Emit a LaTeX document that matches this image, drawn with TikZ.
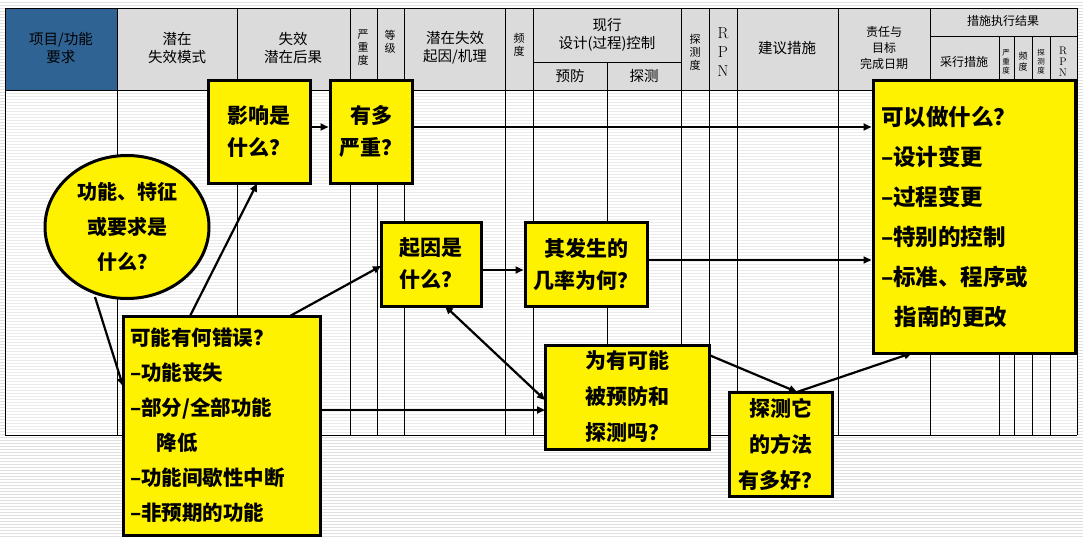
\documentclass[tikz,border=0pt]{standalone}
\usepackage{fontspec}
\newfontfamily\cjk{Noto Sans CJK SC}
\usetikzlibrary{shapes.geometric,arrows.meta}
\begin{document}
\begin{tikzpicture}[x=1pt,y=-1pt,
  hdr/.style={font=\cjk\fontsize{14.5}{18}\selectfont,align=center,inner sep=0},
  hs/.style={font=\cjk\fontsize{11}{13}\selectfont,align=center,inner sep=0},
  yb/.style={draw=black,line width=3pt,fill=yellow,font=\cjk\bfseries\fontsize{21}{32}\selectfont,align=center,inner sep=0},
  arr/.style={line width=2.2pt,-{Triangle[length=8pt,width=7pt]}},
  darr/.style={line width=2.2pt,{Triangle[length=8pt,width=7pt]}-{Triangle[length=8pt,width=7pt]}},
  grid/.style={black,line width=0.7pt}]
\useasboundingbox (0,0) rectangle (1083,538);
\fill[white] (0,0) rectangle (1083,538);
\foreach \y in {2,5,...,538} \draw[black!12,line width=0.8pt] (0,\y) -- (1083,\y);
% table body
\fill[white] (5,90) rectangle (1077,435);
\foreach \y in {93,96,...,433} \draw[black!8,line width=0.6pt] (5,\y) -- (1077,\y);
% header
\fill[black!14] (117,8) rectangle (1077,90);
\fill[fill={rgb,255:red,47;green,99;blue,147}] (5,8) rectangle (117,90);
\draw[grid] (5,8) rectangle (1077,90);
\draw[grid] (5,435) -- (1077,435);
\draw[grid] (5,90) -- (5,435) (1077,90) -- (1077,435);
\foreach \x in {117,237,350,377,404,505,533,681,709,737,838,930}
  \draw[grid] (\x,8) -- (\x,435);
\draw[grid] (607,62) -- (607,435) (533,62) -- (681,62);
\draw[grid] (930,36) -- (1077,36);
\foreach \x in {999,1014,1032,1050} \draw[grid] (\x,36) -- (\x,435);
\node[hdr] (h1) at (61,48) {项目/功能\\要求};
\node[hdr] (h2) at (177,48) {潜在\\失效模式};
\node[hdr] (h3) at (293,48) {失效\\潜在后果};
\node[hs] (h4) at (363,48) {严\\重\\度};
\node[hs] (h5) at (390,42) {等\\级};
\node[hdr] (h6) at (455,48) {潜在失效\\起因/机理};
\node[hs] (h7) at (519,45) {频\\度};
\node[hdr] (h8) at (607,35) {现行\\设计(过程)控制};
\node[hdr] (h9) at (570,76) {预防};
\node[hdr] (h10) at (644,76) {探测};
\node[hs] (h11) at (695,52) {探\\测\\度};
\node[hdr,font=\fontsize{16}{19}\selectfont] (h12) at (723,52) {R\\P\\N};
\node[hdr] (h13) at (787,48) {建议措施};
\node[hs,font=\cjk\fontsize{12}{16}\selectfont] (h14) at (884,48) {责任与\\目标\\完成日期};
\node[hs,font=\cjk\fontsize{12}{13}\selectfont] (h15) at (1003,21) {措施执行结果};
\node[hs,font=\cjk\fontsize{12}{13}\selectfont] (h16) at (964,62) {采行措施};
\node[hs,font=\cjk\fontsize{7.5}{9}\selectfont] (h17) at (1006,62) {严\\重\\度};
\node[hs,font=\cjk\fontsize{9}{11}\selectfont] (h18) at (1023,62) {频\\度};
\node[hs,font=\cjk\fontsize{7.5}{9}\selectfont] (h19) at (1041,62) {探\\测\\度};
\node[hs,font=\fontsize{11}{11}\selectfont] (h20) at (1063,62) {R\\P\\N};
% yellow boxes
\node[yb,minimum width=102pt,minimum height=103pt] (eff) at (259,131.5) {影响是\\什么？};
\node[yb,minimum width=82pt,minimum height=103pt] (sev) at (371,131.5) {有多\\严重？};
\node[yb,ellipse,minimum width=164pt,minimum height=143pt,font=\cjk\bfseries\fontsize{20}{35}\selectfont] (fun) at (127,227) {功能、特征\\或要求是\\什么？};
\node[yb,minimum width=197pt,minimum height=219pt,align=left,text width=183pt,font=\cjk\bfseries\fontsize{20.5}{35}\selectfont] (err) at (221.5,425.5) {可能有何错误？\\–功能丧失\\–部分/全部功能\\\hspace*{1.3em}降低\\–功能间歇性中断\\–非预期的功能};
\node[yb,minimum width=100pt,minimum height=84pt] (cau) at (431,264) {起因是\\什么？};
\node[yb,minimum width=122pt,minimum height=84pt] (occ) at (586,264) {其发生的\\几率为何？};
\node[yb,minimum width=202pt,minimum height=273pt,align=left,text width=186pt,font=\cjk\bfseries\fontsize{22.5}{40}\selectfont] (act) at (974,216.5) {可以做什么？\\–设计变更\\–过程变更\\–特别的控制\\–标准、程序或\\\hspace*{0.6em}指南的更改};
\node[yb,minimum width=164pt,minimum height=104pt,font=\cjk\bfseries\fontsize{21}{36}\selectfont] (prv) at (627,397) {为有可能\\被预防和\\探测吗？};
\node[yb,minimum width=103pt,minimum height=104pt,font=\cjk\bfseries\fontsize{21}{36}\selectfont] (det) at (780.5,444) {探测它\\的方法\\有多好？};
% arrows
\coordinate (e1) at (190,316);
\coordinate (e2) at (290,316);
\draw[arr] (e1) -- (257,183.5);
\draw[arr] (e2) -- (381,266);
\draw[arr] (95,297) -- (123,386);
\draw[arr] (320,410) -- (545,410);
\draw[darr] (445,306) -- (545,400);
\draw[arr] (eff.east |- 0,127) -- (sev.west |- 0,127);
\draw[arr] (sev.east |- 0,127) -- (act.west |- 0,127);
\draw[arr] (cau.east |- 0,270) -- (occ.west |- 0,270);
\draw[arr] (occ.east |- 0,260) -- (act.west |- 0,260);
\draw[arr] (709,355) -- (797,392);
\draw[arr] (797,392) -- (912,353);
\end{tikzpicture}
\end{document}
